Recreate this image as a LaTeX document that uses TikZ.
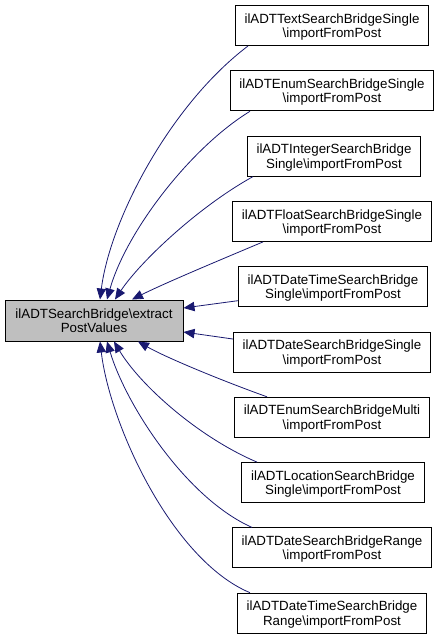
\documentclass[tikz,border=0pt]{standalone}
\usepackage{fontspec}
\setmainfont{Liberation Sans}
\usetikzlibrary{arrows.meta,calc}
\definecolor{edgeblue}{HTML}{191970}
\definecolor{mainfill}{HTML}{BFBFBF}
\tikzset{
  box/.style={draw=black, line width=0.75pt, fill=white, align=center,
    font=\fontsize{10}{10.8}\selectfont, inner xsep=7pt, inner ysep=0pt,
    minimum height=30pt, text depth=0pt},
  mainbox/.style={box, fill=mainfill, minimum width=133.5pt, minimum height=30.75pt},
  edge/.style={draw=edgeblue, line width=0.6pt,
    -{Triangle[length=8.25pt,width=7pt]}}
}
\begin{document}
\begin{tikzpicture}[x=0.75pt,y=-0.75pt]
\useasboundingbox (0,0) rectangle (439,640);
\node[mainbox] (main) at (94,320.5) {ilADTSearchBridge\textbackslash extract\\PostValues};
\node[box] (b1) at (332,25.5) {ilADTTextSearchBridgeSingle\\\textbackslash importFromPost};
\node[box] (b2) at (332,90.8) {ilADTEnumSearchBridgeSingle\\\textbackslash importFromPost};
\node[box] (b3) at (334,156.1) {ilADTIntegerSearchBridge\\Single\textbackslash importFromPost};
\node[box] (b4) at (332,221.4) {ilADTFloatSearchBridgeSingle\\\textbackslash importFromPost};
\node[box] (b5) at (333,286.7) {ilADTDateTimeSearchBridge\\Single\textbackslash importFromPost};
\node[box] (b6) at (332,352) {ilADTDateSearchBridgeSingle\\\textbackslash importFromPost};
\node[box] (b7) at (332,417.3) {ilADTEnumSearchBridgeMulti\\\textbackslash importFromPost};
\node[box] (b8) at (333,482.6) {ilADTLocationSearchBridge\\Single\textbackslash importFromPost};
\node[box] (b9) at (332,547.9) {ilADTDateSearchBridgeRange\\\textbackslash importFromPost};
\node[box] (b10) at (332,613.2) {ilADTDateTimeSearchBridge\\Range\textbackslash importFromPost};
% top edges
\draw[edge] ($(b1.south)+(-84,0)$) .. controls (170,105) and (110,220) .. ($(main.north)+(6,0)$);
\draw[edge] ($(b2.south)+(-82,0)$) .. controls (190,148) and (126,232) .. ($(main.north)+(13,0)$);
\draw[edge] ($(b3.south)+(-81,0)$) .. controls (198,207) and (140,262) .. ($(main.north)+(21,0)$);
\draw[edge] ($(b4.south)+(-69,0)$) .. controls (220,260) and (165,283) .. ($(main.north)+(38,0)$);
% side edges
\draw[edge] ($(b5.west)+(0,14)$) -- ($(main.east)+(0,-12.5)$);
\draw[edge] ($(b6.west)+(0,-13)$) -- ($(main.east)+(0,11.5)$);
% bottom edges
\draw[edge] ($(b7.north)+(-65,0)$) .. controls (220,380) and (165,357) .. ($(main.south)+(44,0)$);
\draw[edge] ($(b8.north)+(-76,0)$) .. controls (198,437) and (140,385) .. ($(main.south)+(20,0)$);
\draw[edge] ($(b9.north)+(-80,0)$) .. controls (186,498) and (126,405) .. ($(main.south)+(13,0)$);
\draw[edge] ($(b10.north)+(-82,0)$) .. controls (172,560) and (110,425) .. ($(main.south)+(6,0)$);
\end{tikzpicture}
\end{document}
